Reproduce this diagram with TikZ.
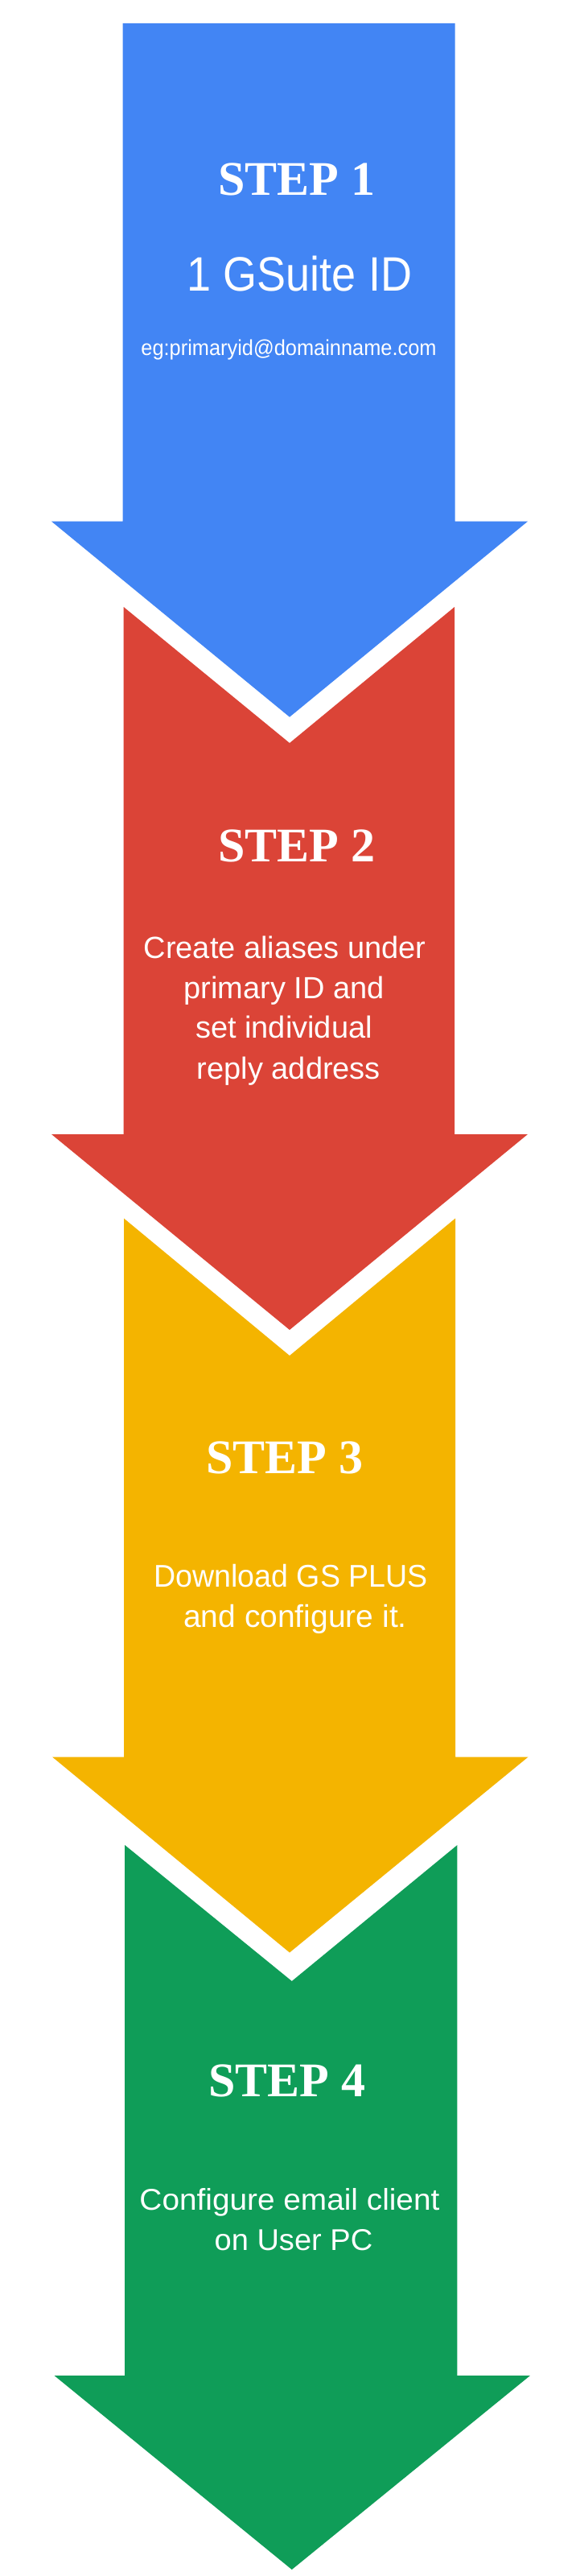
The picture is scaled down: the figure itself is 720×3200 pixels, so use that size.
\documentclass[tikz,border=0pt]{standalone}
\usepackage{fontspec}
\usepackage{graphicx}
\setmainfont{Liberation Sans}
\newfontfamily\stepserif{Liberation Serif}
\definecolor{gblue}{HTML}{4285F4}
\definecolor{gred}{HTML}{DB4437}
\definecolor{gyellow}{HTML}{F4B400}
\definecolor{ggreen}{HTML}{0F9D58}
\tikzset{
  steptitle/.style={anchor=base, text=white, inner sep=0pt,
    font=\stepserif\bfseries\fontsize{60}{60}\selectfont},
  bodytext/.style={anchor=base, text=white, inner sep=0pt,
    font=\fontsize{38}{50}\selectfont},
}
\begin{document}
\begin{tikzpicture}[x=1pt,y=-1pt]
\useasboundingbox (0,0) rectangle (720,3200);
\fill[white] (0,0) rectangle (720,3200);
% Arrow 1 (blue)
\fill[gblue] (152.7,29) -- (565.5,29) -- (565.5,647.7) -- (656,647.7)
  -- (360,890.7) -- (64,647.7) -- (152.7,647.7) -- cycle;
% Arrow 2 (red)
\fill[gred] (153.7,754) -- (360,923) -- (565,754) -- (565,1409) -- (656,1409)
  -- (360,1652) -- (64,1409) -- (153.7,1409) -- cycle;
% Arrow 3 (yellow)
\fill[gyellow] (154,1513.5) -- (360,1684) -- (566,1513.5) -- (566,2182.5) -- (656.6,2182.5)
  -- (360,2425.5) -- (65,2182.5) -- (154,2182.5) -- cycle;
% Arrow 4 (green)
\fill[ggreen] (155.2,2292) -- (362.8,2461) -- (568.4,2292) -- (568.4,2951) -- (659,2951)
  -- (362.8,3192) -- (67.5,2951) -- (155.2,2951) -- cycle;

% Step 1 texts
\node[steptitle] (s1) at (369,243) {STEP 1};
\node[bodytext, font=\fontsize{60}{60}\selectfont] (s1a) at (372.5,362) {\scalebox{0.9}[1]{1 GSuite ID}};
\node[bodytext, font=\fontsize{27}{30}\selectfont] (s1b) at (359,441.7) {\scalebox{0.94}[1]{eg:primaryid@domainname.com}};

% Step 2 texts
\node[steptitle] (s2) at (369,1070) {STEP 2};
\node[bodytext] (s2a) at (354,1190) {Create aliases under};
\node[bodytext] (s2b) at (353,1240) {primary ID and};
\node[bodytext] (s2c) at (353,1289) {set individual};
\node[bodytext] (s2d) at (359,1340) {reply address};

% Step 3 texts
\node[steptitle] (s3) at (354,1830.7) {STEP 3};
\node[bodytext, font=\fontsize{39}{50}\selectfont] (s3a) at (361.7,1971.7) {\scalebox{0.963}[1]{Download GS PLUS}};
\node[bodytext, font=\fontsize{39}{50}\selectfont] (s3b) at (367,2021.7) {and configure it.};

% Step 4 texts
\node[steptitle] (s4) at (357,2604) {STEP 4};
\node[bodytext, font=\fontsize{37.3}{50}\selectfont] (s4a) at (360,2745) {\scalebox{1.04}[1]{Configure email client}};
\node[bodytext, font=\fontsize{37.3}{50}\selectfont] (s4b) at (365,2795) {\scalebox{1.02}[1]{on User PC}};
\end{tikzpicture}
\end{document}
